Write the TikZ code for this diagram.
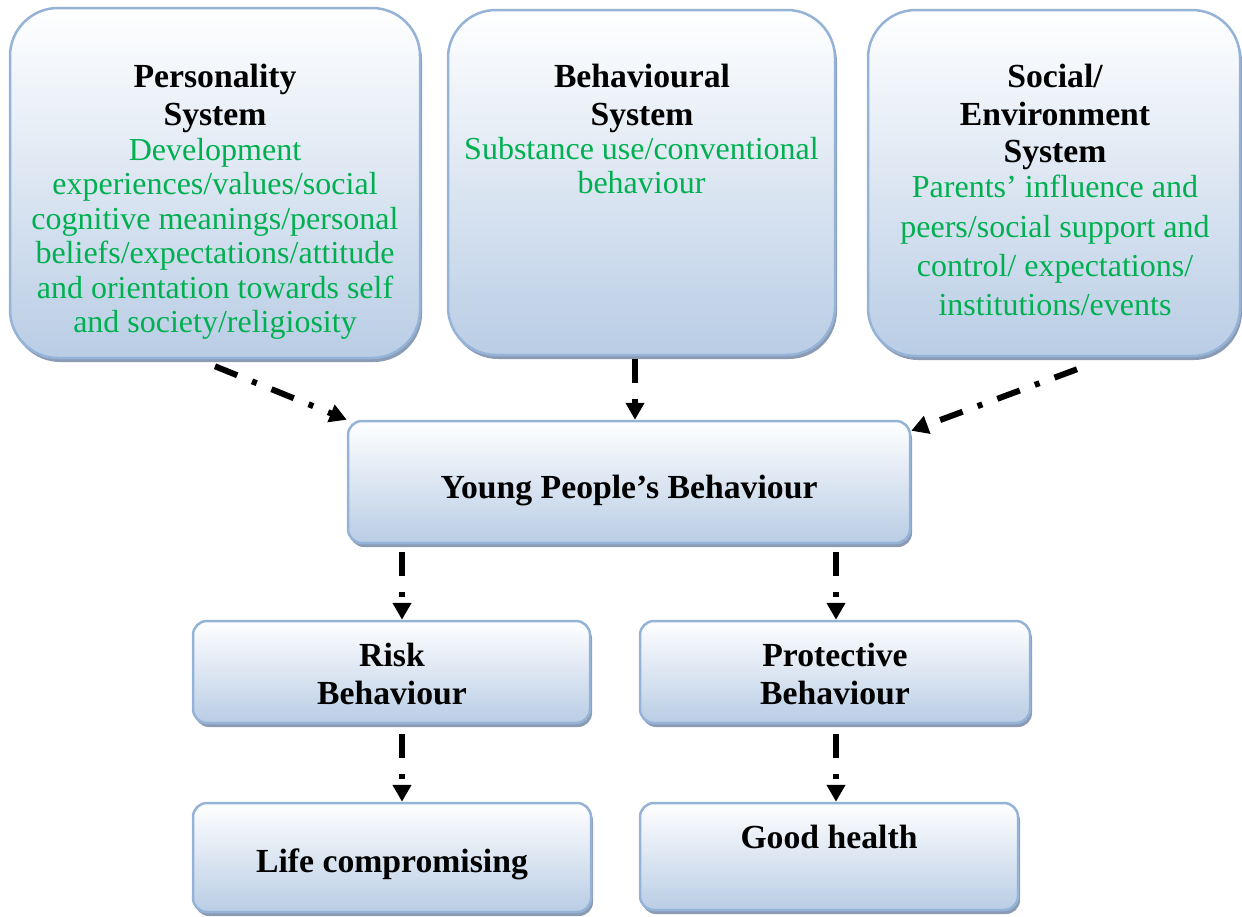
\documentclass[tikz,border=0pt]{standalone}
\usepackage{fontspec}
\setmainfont{Liberation Serif}
\usetikzlibrary{arrows.meta,shadows,calc}
\definecolor{boxborder}{RGB}{149,179,215}
\definecolor{boxbottom}{RGB}{185,205,229}
\definecolor{boxshadow}{RGB}{140,155,180}
\definecolor{txtgreen}{RGB}{0,176,80}
\begin{document}
\begin{tikzpicture}[x=1pt,y=-1pt,
  box/.style={draw=boxborder, line width=2.5pt, top color=white, bottom color=boxbottom,
    drop shadow={shadow xshift=2pt, shadow yshift=-4pt, fill=boxshadow, opacity=1}, inner sep=0pt},
  bigbox/.style={box, rounded corners=48pt},
  smallbox/.style={box, rounded corners=14pt},
  ttl/.style={font=\fontsize{33.7}{38}\selectfont\bfseries, align=center, inner sep=0pt},
  body/.style={font=\fontsize{32}{34.4}\selectfont, text=txtgreen, align=center, inner sep=0pt},
  flow/.style={line width=6pt, dash pattern=on 24pt off 16pt on 5pt off 16pt,
    -{Triangle[length=17pt,width=18pt]}}
]
\useasboundingbox (0,0) rectangle (1242,916);

% top boxes
\node[bigbox, minimum width=410pt, minimum height=350pt] (pers) at (215,183) {};
\node[bigbox, minimum width=387pt, minimum height=345pt] (beh) at (641.5,182.5) {};
\node[bigbox, minimum width=372pt, minimum height=346pt] (soc) at (1054,183) {};

% middle and lower boxes
\node[smallbox, minimum width=562pt, minimum height=122pt] (yp) at (629,482) {};
\node[smallbox, minimum width=397pt, minimum height=102pt] (risk) at (391.5,672) {};
\node[smallbox, minimum width=390pt, minimum height=102pt] (prot) at (835,672) {};
\node[smallbox, minimum width=398pt, minimum height=109pt] (life) at (392,857.5) {};
\node[smallbox, minimum width=378pt, minimum height=107pt] (good) at (829,856.5) {};

% texts
\node[ttl, anchor=north] (perst) at (215,64) {Personality\\System};
\node[body, anchor=north] (persb) at (215,138) {Development\\experiences/values/social\\cognitive meanings/personal\\beliefs/expectations/attitude\\and orientation towards self\\and society/religiosity};

\node[ttl, anchor=north] (beht) at (642,64) {Behavioural\\System};
\node[body, anchor=north] (behb) at (641.5,137) {Substance use/conventional\\behaviour};

\node[ttl, anchor=north, font=\fontsize{33.7}{37.5}\selectfont\bfseries] (soct) at (1055,64) {Social/\\Environment\\System};
\node[body, anchor=north, font=\fontsize{32}{39.3}\selectfont] (socb) at (1055,175) {Parents’ influence and\\peers/social support and\\control/ expectations/\\institutions/events};

\node[ttl, anchor=base] (ypt) at (629,498) {Young People’s Behaviour};
\node[ttl, anchor=north] (riskt) at (392,643) {Risk\\Behaviour};
\node[ttl, anchor=north] (prott) at (835,643) {Protective\\Behaviour};
\node[ttl, anchor=base] (lifet) at (392,872) {Life compromising};
\node[ttl, anchor=base] (goodt) at (829,848) {Good health};

% connectors
\draw[flow] ($(pers.south)+(0,7)$) -- (yp.north west);
\draw[flow] ($(beh.south)+(-6.5,3)$) -- ($(yp.north)+(6,0)$);
\draw[flow] ($(soc.south)+(23,12)$) -- ($(yp.north east)+(0,11)$);
\draw[flow] ($(risk.north)+(10.5,-68)$) -- ($(risk.north)+(10.5,0)$);
\draw[flow] ($(prot.north)+(1,-68)$) -- ($(prot.north)+(1,0)$);
\draw[flow] ($(risk.south)+(10.5,10)$) -- ($(life.north)+(10,0)$);
\draw[flow] ($(prot.south)+(1,10)$) -- ($(good.north)+(7,0)$);
\end{tikzpicture}
\end{document}
